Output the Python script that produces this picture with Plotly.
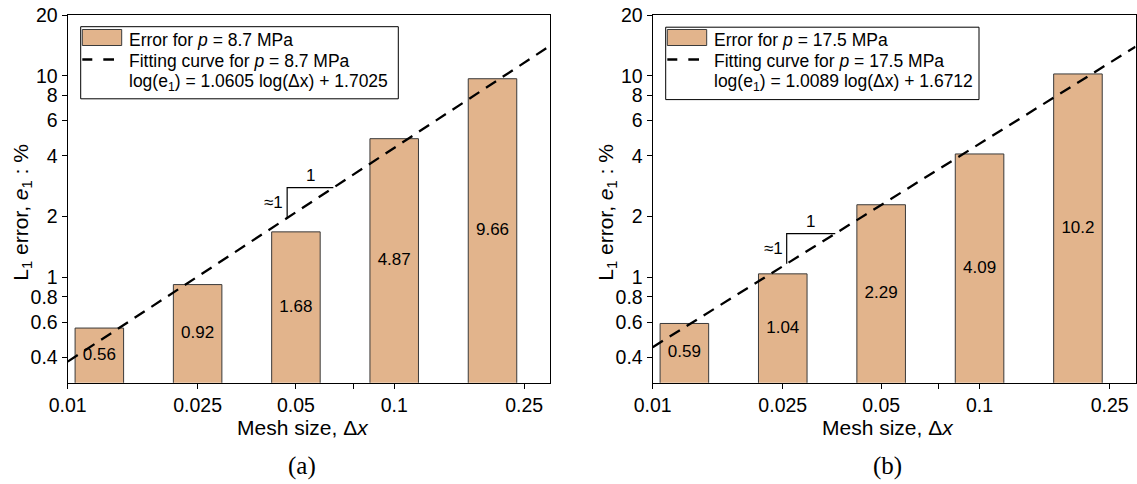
import numpy as np
import plotly.graph_objects as go

# ---- data ----
mesh_sizes = [0.0125, 0.025, 0.05, 0.1, 0.2]
err_a = [0.56, 0.92, 1.68, 4.87, 9.66]
err_b = [0.59, 1.04, 2.29, 4.09, 10.2]
fit_a = (1.0605, 1.7025)   # log(e1) = slope*log(dx) + intercept
fit_b = (1.0089, 1.6712)
pressures = ["8.7", "17.5"]
slope_start = [0.047, 0.0257]

x_tick_vals = [0.01, 0.025, 0.05, 0.075, 0.1, 0.25]
x_tick_text = ["0.01", "0.025", "0.05", "", "0.1", "0.25"]
y_tick_vals = [0.4, 0.6, 0.8, 1, 2, 4, 6, 8, 10, 20]
y_tick_text = ["0.4", "0.6", "0.8", "1", "2", "4", "6", "8", "10", "20"]
x_lim = (0.01, 0.3)
y_lim = (0.3, 20)

# ---- styling ----
W, H = 1137, 484
SANS = "Liberation Sans, Arial, sans-serif"
SERIF = "Liberation Serif, Times New Roman, serif"
BAR = "#E2B48C"
EDGE = "#3a3a3a"
bar_w = 0.1486          # bar width in decades
panels_px = [(67.7, 550.0), (652.7, 1135.5)]
top_px, bot_px = 15.0, 382.7


def px(x):
    return x / W


def py(y):
    return 1 - y / H


fig = go.Figure()
shapes, annots = [], []

for i, (errs, (a, b), p, xs0) in enumerate(zip([err_a, err_b], [fit_a, fit_b], pressures, slope_start)):
    xa = "x" if i == 0 else "x2"
    ya = "y" if i == 0 else "y2"
    lx = np.log10(mesh_sizes)

    fig.add_trace(go.Bar(x=lx, y=errs, width=bar_w, xaxis=xa, yaxis=ya,
                         marker=dict(color=BAR, line=dict(color=EDGE, width=1)),
                         showlegend=False))
    # value labels at the geometric centre of each visible bar
    fig.add_trace(go.Scatter(x=lx, y=np.sqrt(y_lim[0] * np.array(errs)), mode="text",
                             text=[f"{v:g}" for v in errs], xaxis=xa, yaxis=ya,
                             textfont=dict(family=SANS, size=17, color="black"),
                             showlegend=False))
    # fitted power law
    gx = np.linspace(np.log10(x_lim[0]), np.log10(x_lim[1]), 50)
    fig.add_trace(go.Scatter(x=gx, y=10 ** (a * gx + b), mode="lines", xaxis=xa, yaxis=ya,
                             line=dict(color="black", width=2.3, dash="12px,8px"),
                             showlegend=False))
    # slope triangle
    d = 0.15
    l0 = np.log10(xs0)
    ly = a * l0 + b
    l1 = l0 + d / a
    fig.add_trace(go.Scatter(x=[l0, l0, l1], y=[10 ** ly, 10 ** (ly + d), 10 ** (ly + d)],
                             mode="lines", xaxis=xa, yaxis=ya,
                             line=dict(color="black", width=1.2), showlegend=False))
    annots.append(dict(x=(l0 + l1) / 2, y=ly + d, xref=xa, yref=ya, text="1",
                       showarrow=False, xanchor="center", yanchor="bottom", yshift=1,
                       font=dict(family=SANS, size=17, color="black")))
    annots.append(dict(x=l0, y=ly + d / 2, xref=xa, yref=ya, text="≈1",
                       showarrow=False, xanchor="right", yanchor="middle", xshift=-2,
                       font=dict(family=SANS, size=17, color="black")))

    # legend box
    x0p = panels_px[i][0]
    bx0 = x0p + 13.0
    bx1 = bx0 + (317.6 if i == 0 else 313.3)
    by0, by1 = 26.7 + i * 0.5, 98.8 + i * 0.8
    shapes.append(dict(type="rect", xref="paper", yref="paper", x0=px(bx0), x1=px(bx1),
                       y0=py(by0), y1=py(by1), line=dict(color="black", width=1)))
    shapes.append(dict(type="rect", xref="paper", yref="paper", x0=px(bx0 + 1.6), x1=px(bx0 + 41),
                       y0=py(29.5), y1=py(45.5), fillcolor=BAR, line=dict(color=EDGE, width=1)))
    for s0, s1 in [(1.6, 11.6), (22.6, 33.3)]:
        shapes.append(dict(type="line", xref="paper", yref="paper", x0=px(bx0 + s0), x1=px(bx0 + s1),
                           y0=py(59.5), y1=py(59.5), line=dict(color="black", width=2.5)))
    tx = bx0 + 46.5
    rows = [
        (39.8, f"Error for <i>p</i> = {p} MPa"),
        (60.8, f"Fitting curve for <i>p</i> = {p} MPa"),
        (82.0, f"log(e<sub>1</sub>) = {a:.4f} log(Δx) + {b:.4f}"),
    ]
    for ry, t in rows:
        annots.append(dict(x=px(tx), y=py(ry), xref="paper", yref="paper", text=t,
                           showarrow=False, xanchor="left", yanchor="middle",
                           font=dict(family=SANS, size=17.5, color="black")))

    # axis titles and panel tag
    cx = (panels_px[i][0] + panels_px[i][1]) / 2
    annots.append(dict(x=px(cx - 6), y=py(427), xref="paper", yref="paper",
                       text="Mesh size, Δ<i>x</i>", showarrow=False,
                       xanchor="center", yanchor="middle",
                       font=dict(family=SANS, size=21, color="black")))
    annots.append(dict(x=px(panels_px[i][0] - 46), y=py(212), xref="paper", yref="paper",
                       text="L<sub>1</sub> error, <i>e</i><sub>1</sub> : %", showarrow=False,
                       xanchor="center", yanchor="middle",
                       textangle=-90, font=dict(family=SANS, size=21, color="black")))
    annots.append(dict(x=px(cx - 7), y=py(466), xref="paper", yref="paper",
                       text="(a)" if i == 0 else "(b)", showarrow=False,
                       xanchor="center", yanchor="middle",
                       font=dict(family=SERIF, size=25, color="black")))

axis_common = dict(showline=True, linecolor="black", linewidth=1.2, mirror=True,
                   ticks="outside", ticklen=5, tickwidth=1, tickcolor="black",
                   showgrid=False, zeroline=False, automargin=False,
                   tickfont=dict(family=SANS, size=19.5, color="black"))

layout_axes = {}
for i in range(2):
    sx = "" if i == 0 else "2"
    layout_axes[f"xaxis{sx}"] = dict(
        axis_common, domain=[px(panels_px[i][0]), px(panels_px[i][1])],
        range=[np.log10(x_lim[0]), np.log10(x_lim[1])],
        tickmode="array", tickvals=np.log10(x_tick_vals), ticktext=x_tick_text,
        anchor="y" + sx)
    layout_axes[f"yaxis{sx}"] = dict(
        axis_common, type="log", domain=[py(bot_px), py(top_px)],
        range=[np.log10(y_lim[0]), np.log10(y_lim[1])],
        tickmode="array", tickvals=y_tick_vals, ticktext=y_tick_text,
        anchor="x" + sx)

fig.update_layout(width=W, height=H, margin=dict(l=0, r=0, t=0, b=0),
                  paper_bgcolor="white", plot_bgcolor="white",
                  shapes=shapes, annotations=annots, showlegend=False,
                  **layout_axes)

fig.write_html("out.html")
